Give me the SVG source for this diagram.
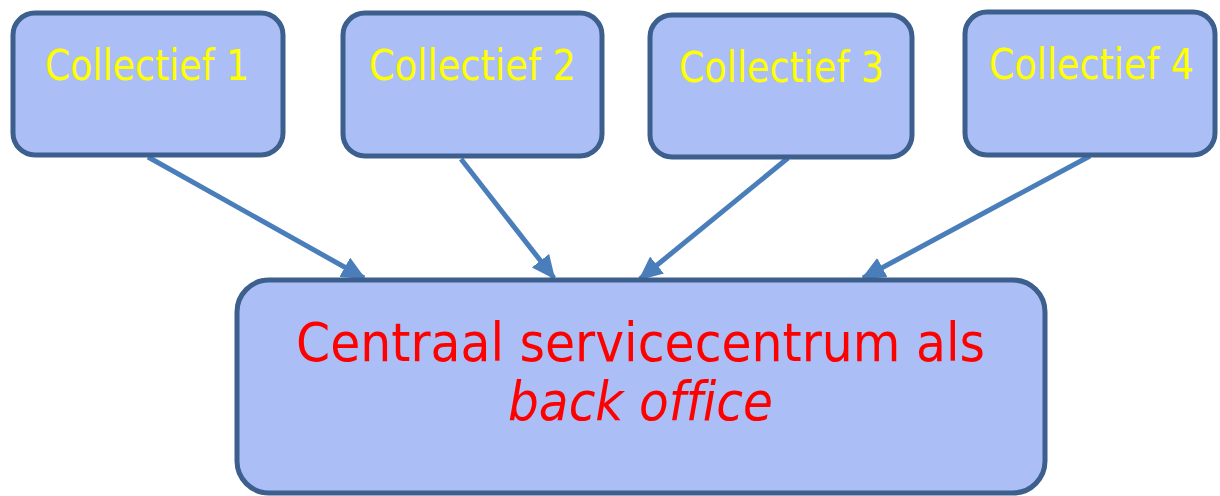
<svg xmlns="http://www.w3.org/2000/svg" width="1220" height="496" viewBox="0 0 1220 496">
<style>
.box{fill:#ABBEF5;stroke:#3C5F8D;stroke-width:5}
.lbl{font-family:"DejaVu Sans Condensed","DejaVu Sans","Liberation Sans",sans-serif;font-size:42px;fill:#FFFF00}
.main{font-family:"DejaVu Sans Condensed","DejaVu Sans","Liberation Sans",sans-serif;font-size:54px;fill:#FF0000;font-variant-ligatures:none}
.conn{stroke:#4A7EBB;stroke-width:5;fill:none;marker-end:url(#ah)}
</style>
<defs>
<marker id="ah" markerUnits="userSpaceOnUse" markerWidth="24" markerHeight="22" refX="22" refY="11" orient="auto" viewBox="0 0 24 22">
<path d="M0,0 L24,11 L0,22 Z" fill="#4A7EBB"/>
</marker>
</defs>
<rect width="1220" height="496" fill="#FFFFFF"/>
<g id="connectors">
<line class="conn" x1="148" y1="157" x2="364" y2="278"/>
<line class="conn" x1="461" y1="159" x2="554" y2="278"/>
<line class="conn" x1="788" y1="158" x2="640" y2="279"/>
<line class="conn" x1="1090" y1="156" x2="863" y2="278"/>
</g>
<g id="collectief1">
<rect class="box" x="13" y="13" width="270" height="142" rx="22"/>
<text class="lbl" x="45" y="80" textLength="204" lengthAdjust="spacingAndGlyphs">Collectief 1</text>
</g>
<g id="collectief2">
<rect class="box" x="343" y="13" width="259" height="143" rx="22"/>
<text class="lbl" x="369" y="80" textLength="207" lengthAdjust="spacingAndGlyphs">Collectief 2</text>
</g>
<g id="collectief3">
<rect class="box" x="650" y="15" width="262" height="142" rx="22"/>
<text class="lbl" x="679" y="82" textLength="205" lengthAdjust="spacingAndGlyphs">Collectief 3</text>
</g>
<g id="collectief4">
<rect class="box" x="965" y="12" width="250" height="143" rx="22"/>
<text class="lbl" x="989" y="79" textLength="205" lengthAdjust="spacingAndGlyphs">Collectief 4</text>
</g>
<g id="centraal">
<rect class="box" x="237" y="280" width="808" height="213" rx="32"/>
<text class="main" x="296" y="361" textLength="689" lengthAdjust="spacingAndGlyphs">Centraal servicecentrum als</text>
<text class="main" x="508" y="420" font-style="italic" textLength="265" lengthAdjust="spacingAndGlyphs">back office</text>
</g>
</svg>
